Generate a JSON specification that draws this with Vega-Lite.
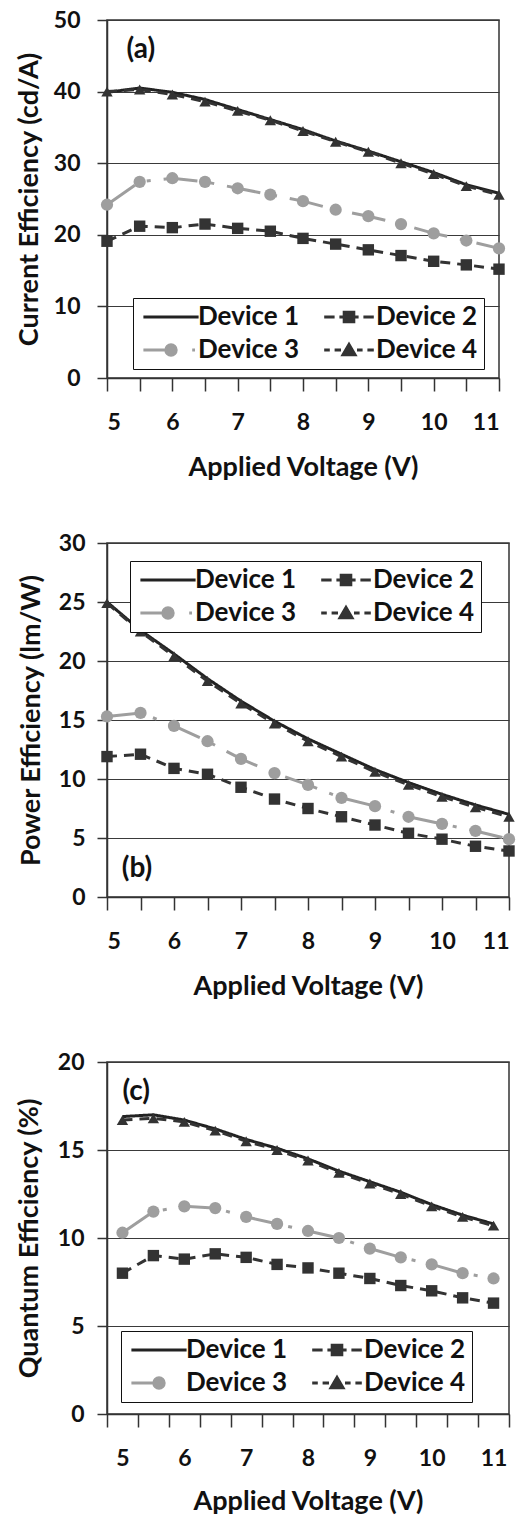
{
  "$schema": "https://vega.github.io/schema/vega-lite/v6.json",
  "padding": {"left": 14, "top": 8, "right": 0, "bottom": 0},
  "spacing": 50,
  "background": "white",
  "config": {
    "font": "Lato",
    "view": {"stroke": "#333333", "strokeWidth": 1.5},
    "axis": {
      "labelFont": "Lato", "labelFontSize": 23, "labelFontWeight": "bold", "labelColor": "#111111",
      "titleFont": "Lato", "titleFontSize": 27, "titleFontWeight": "bold", "titleColor": "#111111",
      "domainColor": "#333333", "tickColor": "#333333", "gridColor": "#3a3a3a",
      "domainWidth": 1.5, "tickWidth": 1.5, "gridWidth": 1.2, "gridOpacity": 1
    },
    "legend": {
      "labelFont": "Lato", "labelFontSize": 26, "labelFontWeight": "bold", "labelColor": "#111111",
      "strokeColor": "#111111", "fillColor": "white", "padding": 6, "rowPadding": 7, "columnPadding": 17,
      "symbolOffset": 19, "labelOffset": 14, "symbolSize": 64, "symbolStrokeWidth": 3, "cornerRadius": 0
    }
  },
  "resolve": {"scale": {"color": "independent", "stroke": "independent", "fill": "independent", "shape": "independent", "strokeDash": "independent"}},
  "datasets": {
    "ce": [
      {"V": 5, "Device": "Device 1", "val": 39.9}, {"V": 5.5, "Device": "Device 1", "val": 40.5}, {"V": 6, "Device": "Device 1", "val": 39.9}, {"V": 6.5, "Device": "Device 1", "val": 38.9}, {"V": 7, "Device": "Device 1", "val": 37.5}, {"V": 7.5, "Device": "Device 1", "val": 36.1}, {"V": 8, "Device": "Device 1", "val": 34.7}, {"V": 8.5, "Device": "Device 1", "val": 33.1}, {"V": 9, "Device": "Device 1", "val": 31.7}, {"V": 9.5, "Device": "Device 1", "val": 30.2}, {"V": 10, "Device": "Device 1", "val": 28.7}, {"V": 10.5, "Device": "Device 1", "val": 27.0}, {"V": 11, "Device": "Device 1", "val": 25.8},
      {"V": 5, "Device": "Device 2", "val": 19.1}, {"V": 5.5, "Device": "Device 2", "val": 21.2}, {"V": 6, "Device": "Device 2", "val": 21.0}, {"V": 6.5, "Device": "Device 2", "val": 21.5}, {"V": 7, "Device": "Device 2", "val": 20.9}, {"V": 7.5, "Device": "Device 2", "val": 20.5}, {"V": 8, "Device": "Device 2", "val": 19.5}, {"V": 8.5, "Device": "Device 2", "val": 18.7}, {"V": 9, "Device": "Device 2", "val": 17.9}, {"V": 9.5, "Device": "Device 2", "val": 17.1}, {"V": 10, "Device": "Device 2", "val": 16.3}, {"V": 10.5, "Device": "Device 2", "val": 15.8}, {"V": 11, "Device": "Device 2", "val": 15.2},
      {"V": 5, "Device": "Device 3", "val": 24.2}, {"V": 5.5, "Device": "Device 3", "val": 27.4}, {"V": 6, "Device": "Device 3", "val": 27.9}, {"V": 6.5, "Device": "Device 3", "val": 27.4}, {"V": 7, "Device": "Device 3", "val": 26.5}, {"V": 7.5, "Device": "Device 3", "val": 25.6}, {"V": 8, "Device": "Device 3", "val": 24.7}, {"V": 8.5, "Device": "Device 3", "val": 23.5}, {"V": 9, "Device": "Device 3", "val": 22.6}, {"V": 9.5, "Device": "Device 3", "val": 21.5}, {"V": 10, "Device": "Device 3", "val": 20.2}, {"V": 10.5, "Device": "Device 3", "val": 19.2}, {"V": 11, "Device": "Device 3", "val": 18.1},
      {"V": 5, "Device": "Device 4", "val": 40.0}, {"V": 5.5, "Device": "Device 4", "val": 40.3}, {"V": 6, "Device": "Device 4", "val": 39.6}, {"V": 6.5, "Device": "Device 4", "val": 38.6}, {"V": 7, "Device": "Device 4", "val": 37.3}, {"V": 7.5, "Device": "Device 4", "val": 36.0}, {"V": 8, "Device": "Device 4", "val": 34.5}, {"V": 8.5, "Device": "Device 4", "val": 33.0}, {"V": 9, "Device": "Device 4", "val": 31.6}, {"V": 9.5, "Device": "Device 4", "val": 30.0}, {"V": 10, "Device": "Device 4", "val": 28.5}, {"V": 10.5, "Device": "Device 4", "val": 26.8}, {"V": 11, "Device": "Device 4", "val": 25.6}
    ],
    "pe": [
      {"V": 5, "Device": "Device 1", "val": 25.0}, {"V": 5.5, "Device": "Device 1", "val": 22.6}, {"V": 6, "Device": "Device 1", "val": 20.6}, {"V": 6.5, "Device": "Device 1", "val": 18.5}, {"V": 7, "Device": "Device 1", "val": 16.6}, {"V": 7.5, "Device": "Device 1", "val": 14.9}, {"V": 8, "Device": "Device 1", "val": 13.4}, {"V": 8.5, "Device": "Device 1", "val": 12.1}, {"V": 9, "Device": "Device 1", "val": 10.8}, {"V": 9.5, "Device": "Device 1", "val": 9.7}, {"V": 10, "Device": "Device 1", "val": 8.7}, {"V": 10.5, "Device": "Device 1", "val": 7.8}, {"V": 11, "Device": "Device 1", "val": 7.0},
      {"V": 5, "Device": "Device 2", "val": 11.9}, {"V": 5.5, "Device": "Device 2", "val": 12.1}, {"V": 6, "Device": "Device 2", "val": 10.9}, {"V": 6.5, "Device": "Device 2", "val": 10.4}, {"V": 7, "Device": "Device 2", "val": 9.3}, {"V": 7.5, "Device": "Device 2", "val": 8.3}, {"V": 8, "Device": "Device 2", "val": 7.5}, {"V": 8.5, "Device": "Device 2", "val": 6.8}, {"V": 9, "Device": "Device 2", "val": 6.1}, {"V": 9.5, "Device": "Device 2", "val": 5.4}, {"V": 10, "Device": "Device 2", "val": 4.9}, {"V": 10.5, "Device": "Device 2", "val": 4.3}, {"V": 11, "Device": "Device 2", "val": 3.9},
      {"V": 5, "Device": "Device 3", "val": 15.3}, {"V": 5.5, "Device": "Device 3", "val": 15.6}, {"V": 6, "Device": "Device 3", "val": 14.5}, {"V": 6.5, "Device": "Device 3", "val": 13.2}, {"V": 7, "Device": "Device 3", "val": 11.7}, {"V": 7.5, "Device": "Device 3", "val": 10.5}, {"V": 8, "Device": "Device 3", "val": 9.5}, {"V": 8.5, "Device": "Device 3", "val": 8.4}, {"V": 9, "Device": "Device 3", "val": 7.7}, {"V": 9.5, "Device": "Device 3", "val": 6.8}, {"V": 10, "Device": "Device 3", "val": 6.2}, {"V": 10.5, "Device": "Device 3", "val": 5.6}, {"V": 11, "Device": "Device 3", "val": 4.9},
      {"V": 5, "Device": "Device 4", "val": 24.9}, {"V": 5.5, "Device": "Device 4", "val": 22.5}, {"V": 6, "Device": "Device 4", "val": 20.4}, {"V": 6.5, "Device": "Device 4", "val": 18.3}, {"V": 7, "Device": "Device 4", "val": 16.4}, {"V": 7.5, "Device": "Device 4", "val": 14.7}, {"V": 8, "Device": "Device 4", "val": 13.2}, {"V": 8.5, "Device": "Device 4", "val": 11.9}, {"V": 9, "Device": "Device 4", "val": 10.6}, {"V": 9.5, "Device": "Device 4", "val": 9.5}, {"V": 10, "Device": "Device 4", "val": 8.5}, {"V": 10.5, "Device": "Device 4", "val": 7.6}, {"V": 11, "Device": "Device 4", "val": 6.8}
    ],
    "qe": [
      {"V": 5, "Device": "Device 1", "val": 16.9}, {"V": 5.5, "Device": "Device 1", "val": 17.0}, {"V": 6, "Device": "Device 1", "val": 16.7}, {"V": 6.5, "Device": "Device 1", "val": 16.2}, {"V": 7, "Device": "Device 1", "val": 15.6}, {"V": 7.5, "Device": "Device 1", "val": 15.1}, {"V": 8, "Device": "Device 1", "val": 14.5}, {"V": 8.5, "Device": "Device 1", "val": 13.8}, {"V": 9, "Device": "Device 1", "val": 13.2}, {"V": 9.5, "Device": "Device 1", "val": 12.6}, {"V": 10, "Device": "Device 1", "val": 11.9}, {"V": 10.5, "Device": "Device 1", "val": 11.3}, {"V": 11, "Device": "Device 1", "val": 10.8},
      {"V": 5, "Device": "Device 2", "val": 8.0}, {"V": 5.5, "Device": "Device 2", "val": 9.0}, {"V": 6, "Device": "Device 2", "val": 8.8}, {"V": 6.5, "Device": "Device 2", "val": 9.1}, {"V": 7, "Device": "Device 2", "val": 8.9}, {"V": 7.5, "Device": "Device 2", "val": 8.5}, {"V": 8, "Device": "Device 2", "val": 8.3}, {"V": 8.5, "Device": "Device 2", "val": 8.0}, {"V": 9, "Device": "Device 2", "val": 7.7}, {"V": 9.5, "Device": "Device 2", "val": 7.3}, {"V": 10, "Device": "Device 2", "val": 7.0}, {"V": 10.5, "Device": "Device 2", "val": 6.6}, {"V": 11, "Device": "Device 2", "val": 6.3},
      {"V": 5, "Device": "Device 3", "val": 10.3}, {"V": 5.5, "Device": "Device 3", "val": 11.5}, {"V": 6, "Device": "Device 3", "val": 11.8}, {"V": 6.5, "Device": "Device 3", "val": 11.7}, {"V": 7, "Device": "Device 3", "val": 11.2}, {"V": 7.5, "Device": "Device 3", "val": 10.8}, {"V": 8, "Device": "Device 3", "val": 10.4}, {"V": 8.5, "Device": "Device 3", "val": 10.0}, {"V": 9, "Device": "Device 3", "val": 9.4}, {"V": 9.5, "Device": "Device 3", "val": 8.9}, {"V": 10, "Device": "Device 3", "val": 8.5}, {"V": 10.5, "Device": "Device 3", "val": 8.0}, {"V": 11, "Device": "Device 3", "val": 7.7},
      {"V": 5, "Device": "Device 4", "val": 16.7}, {"V": 5.5, "Device": "Device 4", "val": 16.8}, {"V": 6, "Device": "Device 4", "val": 16.6}, {"V": 6.5, "Device": "Device 4", "val": 16.1}, {"V": 7, "Device": "Device 4", "val": 15.5}, {"V": 7.5, "Device": "Device 4", "val": 15.0}, {"V": 8, "Device": "Device 4", "val": 14.4}, {"V": 8.5, "Device": "Device 4", "val": 13.7}, {"V": 9, "Device": "Device 4", "val": 13.1}, {"V": 9.5, "Device": "Device 4", "val": 12.5}, {"V": 10, "Device": "Device 4", "val": 11.8}, {"V": 10.5, "Device": "Device 4", "val": 11.2}, {"V": 11, "Device": "Device 4", "val": 10.7}
    ]
  },
  "vconcat": [
    {
      "width": 392, "height": 358,
      "data": {"name": "ce"},
      "encoding": {
        "x": {"field": "V", "type": "quantitative", "scale": {"domain": [5, 11], "nice": false, "zero": false},
          "axis": {"values": [5, 5.5, 6, 6.5, 7, 7.5, 8, 8.5, 9, 9.5, 10, 10.5, 11], "labelExpr": "datum.value % 1 === 0 ? format(datum.value, 'd') : ''", "labelOverlap": false, "grid": false, "tickSize": 13, "labelPadding": 20, "title": "Applied Voltage (V)", "titlePadding": 20}},
        "y": {"field": "val", "type": "quantitative", "scale": {"domain": [0, 50], "nice": false},
          "axis": {"values": [0, 10, 20, 30, 40, 50], "grid": true, "tickSize": 10, "labelPadding": 17, "title": "Current Efficiency (cd/A)", "titlePadding": 10}}
      },
      "layer": [
        {"mark": {"type": "line", "strokeWidth": 3},
         "encoding": {
           "color": {"field": "Device", "type": "nominal", "scale": {"domain": ["Device 1", "Device 2", "Device 3", "Device 4"], "range": ["#222222", "#333333", "#9e9e9e", "#333333"]}, "legend": null},
           "strokeDash": {"field": "Device", "type": "nominal", "scale": {"domain": ["Device 1", "Device 2", "Device 3", "Device 4"], "range": [[1, 0], [10, 7], [34, 13, 4, 13], [10, 7]]}, "legend": null}}},
        {"transform": [{"filter": "datum.Device === 'Device 2'"}], "mark": {"type": "point", "shape": "square", "filled": true, "size": 130, "opacity": 1},
         "encoding": {"color": {"field": "Device", "type": "nominal", "legend": null}}},
        {"transform": [{"filter": "datum.Device === 'Device 3'"}], "mark": {"type": "point", "shape": "circle", "filled": true, "size": 150, "opacity": 1},
         "encoding": {"color": {"field": "Device", "type": "nominal", "legend": null}}},
        {"transform": [{"filter": "datum.Device === 'Device 4'"}], "mark": {"type": "point", "shape": "triangle-up", "filled": true, "size": 130, "opacity": 1},
         "encoding": {"color": {"field": "Device", "type": "nominal", "legend": null}}},
        {"transform": [{"filter": "datum.V === 5 && datum.Device === 'Device 1'"}], "mark": {"type": "text", "text": "(a)", "align": "left", "baseline": "middle", "fontSize": 28, "fontWeight": "bold", "color": "#111111"},
         "encoding": {"x": {"datum": 5.3}, "y": {"datum": 45.8}}},
        {"transform": [{"filter": "datum.V > 100"}], "mark": {"type": "point", "filled": false, "strokeWidth": 3, "opacity": 1},
         "encoding": {
           "stroke": {"field": "Device", "type": "nominal", "scale": {"domain": ["Device 1", "Device 3", "Device 2", "Device 4"], "range": ["#222222", "#9e9e9e", "#333333", "#333333"]},
             "legend": {"orient": "none", "legendX": 26, "legendY": 278, "columns": 2, "title": null}},
           "fill": {"field": "Device", "type": "nominal", "scale": {"domain": ["Device 1", "Device 3", "Device 2", "Device 4"], "range": ["#222222", "#9e9e9e", "#333333", "#333333"]},
             "legend": {"orient": "none", "legendX": 26, "legendY": 278, "columns": 2, "title": null}},
           "shape": {"field": "Device", "type": "nominal", "scale": {"domain": ["Device 1", "Device 3", "Device 2", "Device 4"], "range": [
               "M-6.9,0H6.9",
               "M-6.9,0H-1.3M-1.3,0A1.3,1.3,0,1,1,1.3,0A1.3,1.3,0,1,1,-1.3,0ZM5.3,0H6",
               "M-6.2,0H-3.6M-2.4,0H2.4M3.6,0H6.2M-1.2,-1.2H1.2V1.2H-1.2Z",
               "M-6.2,0H-4.8M-3.6,0H-2M2,0H3.4M4.6,0H6.2M-1.5,1.2L0,-1.4L1.5,1.2Z"]},
             "legend": {"orient": "none", "legendX": 26, "legendY": 278, "columns": 2, "title": null}}}}
      ]
    },
    {
      "width": 402, "height": 354,
      "data": {"name": "pe"},
      "encoding": {
        "x": {"field": "V", "type": "quantitative", "scale": {"domain": [5, 11], "nice": false, "zero": false},
          "axis": {"values": [5, 5.5, 6, 6.5, 7, 7.5, 8, 8.5, 9, 9.5, 10, 10.5, 11], "labelExpr": "datum.value % 1 === 0 ? format(datum.value, 'd') : ''", "labelOverlap": false, "grid": false, "tickSize": 13, "labelPadding": 20, "title": "Applied Voltage (V)", "titlePadding": 20}},
        "y": {"field": "val", "type": "quantitative", "scale": {"domain": [0, 30], "nice": false},
          "axis": {"values": [0, 5, 10, 15, 20, 25, 30], "grid": true, "tickSize": 10, "labelPadding": 12, "title": "Power Efficiency (lm/W)", "titlePadding": 13}}
      },
      "layer": [
        {"mark": {"type": "line", "strokeWidth": 3},
         "encoding": {
           "color": {"field": "Device", "type": "nominal", "scale": {"domain": ["Device 1", "Device 2", "Device 3", "Device 4"], "range": ["#222222", "#333333", "#9e9e9e", "#333333"]}, "legend": null},
           "strokeDash": {"field": "Device", "type": "nominal", "scale": {"domain": ["Device 1", "Device 2", "Device 3", "Device 4"], "range": [[1, 0], [10, 7], [34, 13, 4, 13], [10, 7]]}, "legend": null}}},
        {"transform": [{"filter": "datum.Device === 'Device 2'"}], "mark": {"type": "point", "shape": "square", "filled": true, "size": 130, "opacity": 1},
         "encoding": {"color": {"field": "Device", "type": "nominal", "legend": null}}},
        {"transform": [{"filter": "datum.Device === 'Device 3'"}], "mark": {"type": "point", "shape": "circle", "filled": true, "size": 150, "opacity": 1},
         "encoding": {"color": {"field": "Device", "type": "nominal", "legend": null}}},
        {"transform": [{"filter": "datum.Device === 'Device 4'"}], "mark": {"type": "point", "shape": "triangle-up", "filled": true, "size": 130, "opacity": 1},
         "encoding": {"color": {"field": "Device", "type": "nominal", "legend": null}}},
        {"transform": [{"filter": "datum.V === 5 && datum.Device === 'Device 1'"}], "mark": {"type": "text", "text": "(b)", "align": "left", "baseline": "middle", "fontSize": 28, "fontWeight": "bold", "color": "#111111"},
         "encoding": {"x": {"datum": 5.22}, "y": {"datum": 2.4}}},
        {"transform": [{"filter": "datum.V > 100"}], "mark": {"type": "point", "filled": false, "strokeWidth": 3, "opacity": 1},
         "encoding": {
           "stroke": {"field": "Device", "type": "nominal", "scale": {"domain": ["Device 1", "Device 3", "Device 2", "Device 4"], "range": ["#222222", "#9e9e9e", "#333333", "#333333"]},
             "legend": {"orient": "none", "legendX": 23, "legendY": 18, "columns": 2, "title": null}},
           "fill": {"field": "Device", "type": "nominal", "scale": {"domain": ["Device 1", "Device 3", "Device 2", "Device 4"], "range": ["#222222", "#9e9e9e", "#333333", "#333333"]},
             "legend": {"orient": "none", "legendX": 23, "legendY": 18, "columns": 2, "title": null}},
           "shape": {"field": "Device", "type": "nominal", "scale": {"domain": ["Device 1", "Device 3", "Device 2", "Device 4"], "range": [
               "M-6.9,0H6.9",
               "M-6.9,0H-1.3M-1.3,0A1.3,1.3,0,1,1,1.3,0A1.3,1.3,0,1,1,-1.3,0ZM5.3,0H6",
               "M-6.2,0H-3.6M-2.4,0H2.4M3.6,0H6.2M-1.2,-1.2H1.2V1.2H-1.2Z",
               "M-6.2,0H-4.8M-3.6,0H-2M2,0H3.4M4.6,0H6.2M-1.5,1.2L0,-1.4L1.5,1.2Z"]},
             "legend": {"orient": "none", "legendX": 23, "legendY": 18, "columns": 2, "title": null}}}}
      ]
    },
    {
      "width": 402, "height": 352,
      "data": {"name": "qe"},
      "encoding": {
        "x": {"field": "V", "type": "ordinal", "scale": {"type": "band", "paddingInner": 0, "paddingOuter": 0},
          "axis": {"labelExpr": "datum.value % 1 === 0 ? datum.label : ''", "labelOverlap": false, "labelAngle": 0, "tickBand": "extent", "grid": false, "tickSize": 13, "labelPadding": 20, "title": "Applied Voltage (V)", "titlePadding": 18}},
        "y": {"field": "val", "type": "quantitative", "scale": {"domain": [0, 20], "nice": false},
          "axis": {"values": [0, 5, 10, 15, 20], "grid": true, "tickSize": 10, "labelPadding": 13, "title": "Quantum Efficiency (%)", "titlePadding": 14}}
      },
      "layer": [
        {"mark": {"type": "line", "strokeWidth": 3},
         "encoding": {
           "color": {"field": "Device", "type": "nominal", "scale": {"domain": ["Device 1", "Device 2", "Device 3", "Device 4"], "range": ["#222222", "#333333", "#9e9e9e", "#333333"]}, "legend": null},
           "strokeDash": {"field": "Device", "type": "nominal", "scale": {"domain": ["Device 1", "Device 2", "Device 3", "Device 4"], "range": [[1, 0], [10, 7], [34, 13, 4, 13], [10, 7]]}, "legend": null}}},
        {"transform": [{"filter": "datum.Device === 'Device 2'"}], "mark": {"type": "point", "shape": "square", "filled": true, "size": 130, "opacity": 1},
         "encoding": {"color": {"field": "Device", "type": "nominal", "legend": null}}},
        {"transform": [{"filter": "datum.Device === 'Device 3'"}], "mark": {"type": "point", "shape": "circle", "filled": true, "size": 150, "opacity": 1},
         "encoding": {"color": {"field": "Device", "type": "nominal", "legend": null}}},
        {"transform": [{"filter": "datum.Device === 'Device 4'"}], "mark": {"type": "point", "shape": "triangle-up", "filled": true, "size": 130, "opacity": 1},
         "encoding": {"color": {"field": "Device", "type": "nominal", "legend": null}}},
        {"transform": [{"filter": "datum.V === 5 && datum.Device === 'Device 1'"}], "mark": {"type": "text", "text": "(c)", "align": "left", "baseline": "middle", "fontSize": 28, "fontWeight": "bold", "color": "#111111"},
         "encoding": {"y": {"datum": 18.3}}},
        {"transform": [{"filter": "datum.V > 100"}], "mark": {"type": "point", "filled": false, "strokeWidth": 3, "opacity": 1},
         "encoding": {
           "stroke": {"field": "Device", "type": "nominal", "scale": {"domain": ["Device 1", "Device 3", "Device 2", "Device 4"], "range": ["#222222", "#9e9e9e", "#333333", "#333333"]},
             "legend": {"orient": "none", "legendX": 14, "legendY": 269, "columns": 2, "title": null}},
           "fill": {"field": "Device", "type": "nominal", "scale": {"domain": ["Device 1", "Device 3", "Device 2", "Device 4"], "range": ["#222222", "#9e9e9e", "#333333", "#333333"]},
             "legend": {"orient": "none", "legendX": 14, "legendY": 269, "columns": 2, "title": null}},
           "shape": {"field": "Device", "type": "nominal", "scale": {"domain": ["Device 1", "Device 3", "Device 2", "Device 4"], "range": [
               "M-6.9,0H6.9",
               "M-6.9,0H-1.3M-1.3,0A1.3,1.3,0,1,1,1.3,0A1.3,1.3,0,1,1,-1.3,0Z",
               "M-6.2,0H-3.6M-2.4,0H2.4M3.6,0H6.2M-1.2,-1.2H1.2V1.2H-1.2Z",
               "M-6.2,0H-4.8M-3.6,0H-2M2,0H3.4M4.6,0H6.2M-1.5,1.2L0,-1.4L1.5,1.2Z"]},
             "legend": {"orient": "none", "legendX": 14, "legendY": 269, "columns": 2, "title": null}}}}
      ]
    }
  ]
}
